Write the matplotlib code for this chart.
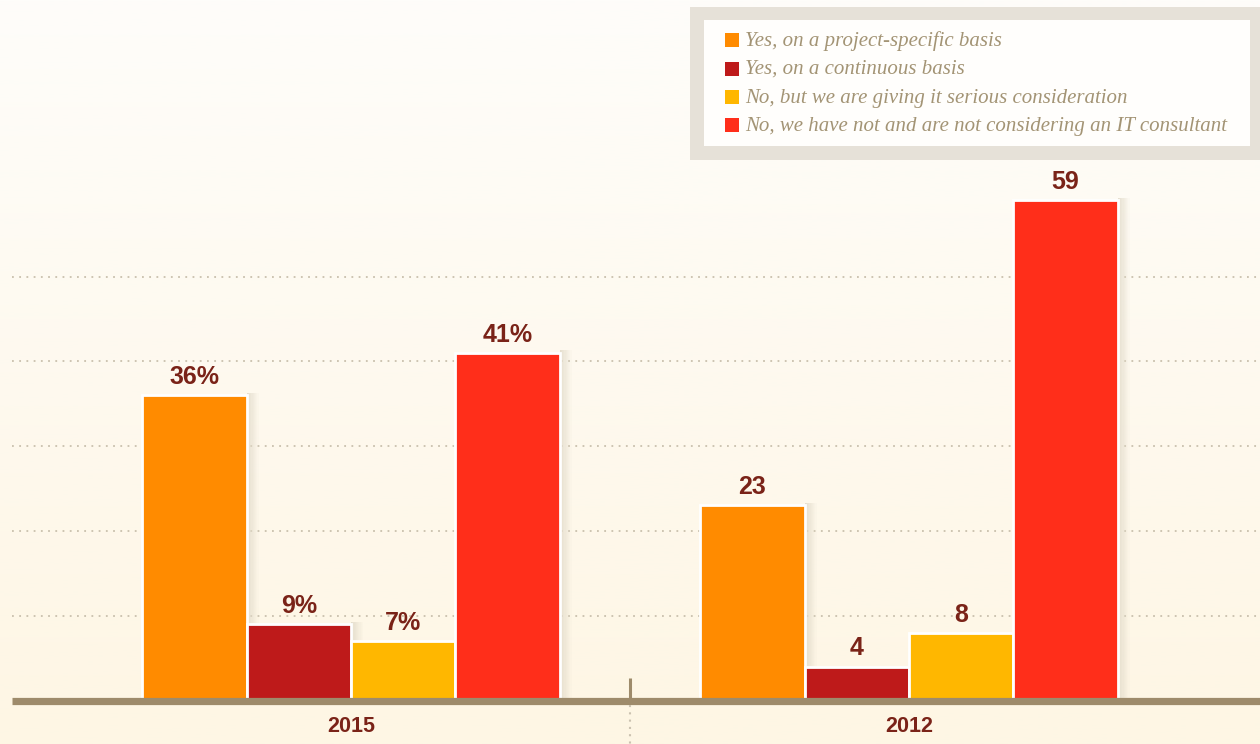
import numpy as np
import matplotlib.pyplot as plt
from matplotlib.patches import Rectangle

# ─── DATA ─────────────────────────────────────────────────────────────────────
years = ["2015", "2012"]
series = [
    "Yes, on a project-specific basis",
    "Yes, on a continuous basis",
    "No, but we are giving it serious consideration",
    "No, we have not and are not considering an IT consultant",
]
values_2015 = [36, 9, 7, 41]
values_2012 = [23, 4, 8, 59]
label_suffix = ["%", ""]          # 2015 labels carry a percent sign, 2012 ones don't
grid_levels = [10, 20, 30, 40, 50]

# ─── STYLE ────────────────────────────────────────────────────────────────────
COLORS = ["#ff8b00", "#be1a1a", "#ffb700", "#ff2e1a"]
LABEL_COLOR = "#7a2318"
BASE_COLOR = "#9e8b6b"
GRID_COLOR = "#c9c0ad"
LEGEND_TEXT = "#a39475"
SHADOW = "#e3dccb"

W, H = 1260, 744
PX_PER_UNIT = 8.48
GROUP_PX = 558.0
BAR_W = 0.187

fig = plt.figure(figsize=(W / 100, H / 100), dpi=100)

# background gradient
bg = fig.add_axes([0, 0, 1, 1], zorder=-10)
top = np.array([254, 253, 250]) / 255
bot = np.array([254, 246, 228]) / 255
t = np.linspace(0, 1, 256)[:, None]
grad = top[None, :] * (1 - t) + bot[None, :] * t
bg.imshow(grad[:, None, :], aspect="auto", extent=[0, 1, 0, 1])
bg.axis("off")

base_y = 43.5
ax = fig.add_axes([0, base_y / H, 1, (H - base_y) / H])
ax.patch.set_alpha(0)
x0 = -351 / GROUP_PX
ax.set_xlim(x0, x0 + W / GROUP_PX)
ax.set_ylim(0, (H - base_y) / PX_PER_UNIT)
ax.axis("off")

grid_start = 12 / GROUP_PX + x0
for g in grid_levels:
    ax.plot([grid_start, ax.get_xlim()[1]], [g, g], color=GRID_COLOR, lw=1.3,
            linestyle=(0, (1, 3)), zorder=1)

groups = np.arange(len(years))
all_vals = [values_2015, values_2012]
offsets = (np.arange(len(series)) - 1.5) * BAR_W
shadow_w = 12 / GROUP_PX
n_sl = 10

for gi, vals in enumerate(all_vals):
    for si, v in enumerate(vals):
        xc = groups[gi] + offsets[si]
        # soft shadow on the right side of each bar
        for k in range(n_sl):
            xs = xc + BAR_W / 2 + k * shadow_w / n_sl
            ax.bar(xs, v + 0.3, width=shadow_w / n_sl, align="edge", color=SHADOW,
                   alpha=0.9 * (1 - k / n_sl), lw=0, zorder=2)
        ax.bar(xc, v, width=BAR_W, color=COLORS[si], edgecolor="white", lw=2.0, zorder=3)
        ax.annotate(f"{v}{label_suffix[gi]}", xy=(xc, v), xytext=(0, 8),
                    textcoords="offset points", ha="center", va="baseline",
                    fontsize=18, fontweight="bold", color=LABEL_COLOR,
                    family="Liberation Sans", zorder=4)
    ax.annotate(years[gi], xy=(groups[gi], 0), xytext=(0, -23),
                textcoords="offset points", ha="center", va="baseline",
                fontsize=15.5, fontweight="bold", color=LABEL_COLOR,
                family="Liberation Sans", annotation_clip=False)

# baseline and divider
ax.plot([grid_start, ax.get_xlim()[1]], [0, 0], color=BASE_COLOR, lw=5.2,
        solid_capstyle="butt", zorder=5, clip_on=False)
ax.plot([0.5, 0.5], [0, 23 / PX_PER_UNIT], color=BASE_COLOR, lw=2.2,
        solid_capstyle="butt", zorder=5)
ax.plot([0.5, 0.5], [-4 / PX_PER_UNIT, -base_y / PX_PER_UNIT], color="#cbc2b0",
        lw=1.5, linestyle=(0, (1, 2.5)), zorder=5, clip_on=False)

# legend box
def px_rect(x, y, w, h, **kw):
    return Rectangle((x / W, 1 - (y + h) / H), w / W, h / H,
                     transform=fig.transFigure, **kw)

fig.add_artist(px_rect(690, 7, 580, 153, facecolor="#e6e1d8", lw=0, zorder=10))
fig.add_artist(px_rect(704, 20, 546, 126, facecolor="#fffefc", lw=0, zorder=11))
row_y = [40, 68.5, 97, 125]
for si, lab in enumerate(series):
    fig.add_artist(px_rect(725, row_y[si] - 7, 14, 14, facecolor=COLORS[si],
                           lw=0, zorder=12))
    fig.text(745 / W, 1 - (row_y[si] + 1) / H, lab, ha="left", va="center",
             fontsize=15, style="italic", family="Liberation Serif",
             color=LEGEND_TEXT, zorder=13)

fig.savefig("out.png", dpi=100)
